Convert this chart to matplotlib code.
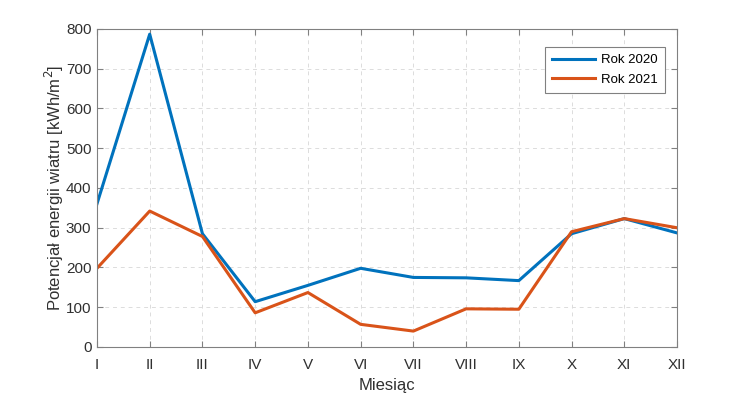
import matplotlib.pyplot as plt

months = ["I", "II", "III", "IV", "V", "VI", "VII", "VIII", "IX", "X", "XI", "XII"]
rok_2020 = [360, 787, 285, 114, 155, 198, 175, 174, 167, 285, 323, 287]
rok_2021 = [198, 342, 278, 86, 137, 57, 40, 96, 95, 290, 323, 300]

plt.rcParams["font.family"] = ["Liberation Sans", "DejaVu Sans"]

fig = plt.figure(figsize=(7.5, 3.94), dpi=100)
ax = fig.add_axes([0.1293, 0.1193, 0.7734, 0.8071])

x = range(len(months))
ax.plot(x, rok_2020, color="#0072BD", lw=2.2, label="Rok 2020")
ax.plot(x, rok_2021, color="#D95319", lw=2.2, label="Rok 2021")

ax.set_xlim(0, 11)
ax.set_ylim(0, 800)
ax.set_xticks(list(x))
ax.set_xticklabels(months)
ax.set_yticks(range(0, 801, 100))

ax.grid(True, ls=(0, (4, 4)), color="#dcdcdc", lw=0.7)
for s in ax.spines.values():
    s.set_color("#808080")
    s.set_linewidth(0.8)
ax.tick_params(direction="in", length=4, color="#808080", labelcolor="#303030",
               labelsize=11, top=True, right=True, pad=4)
ax.tick_params(axis="x", pad=8)

ax.set_xlabel("Miesiąc", fontsize=12, color="#303030")
ax.set_ylabel("Potencjał energii wiatru [kWh/m$^2$]", fontsize=12, color="#303030",
              labelpad=0)

leg = ax.legend(loc="upper right", bbox_to_anchor=(0.99, 0.965), fontsize=9.5,
                fancybox=False, framealpha=1, edgecolor="#808080",
                handlelength=3.3, handletextpad=0.4, borderpad=0.55,
                labelspacing=0.55)
leg.get_frame().set_linewidth(0.8)

fig.savefig("out.png", dpi=100)
